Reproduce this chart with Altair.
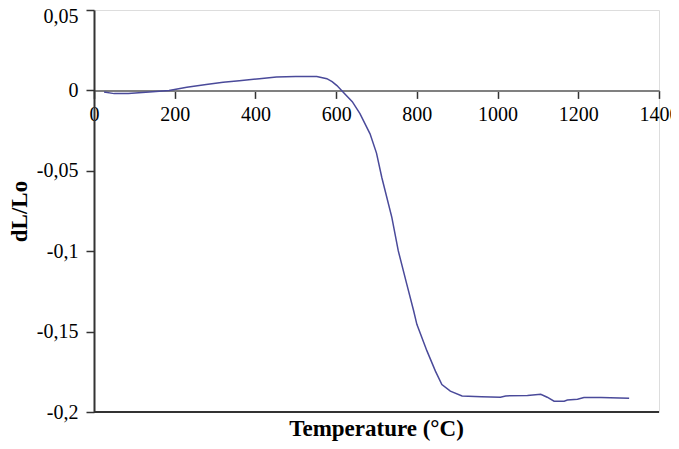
import altair as alt
import pandas as pd

# Temperature (°C) and relative length change dL/Lo
temperature = [25, 50, 85, 137, 186, 230, 278, 320, 360, 410, 452, 500, 552, 577,
               590, 602, 617, 640, 659, 684, 700, 713, 738, 754, 775, 792, 800, 825,
               846, 862, 883, 912, 960, 1007, 1020, 1074, 1107, 1123, 1140, 1165,
               1173, 1198, 1214, 1256, 1326]
dl_lo = [-0.001, -0.002, -0.002, -0.001, 0.0, 0.002, 0.0037, 0.005, 0.006, 0.0073,
         0.0083, 0.0086, 0.0087, 0.0073, 0.0055, 0.003, -0.001, -0.007, -0.0145,
         -0.027, -0.039, -0.054, -0.079, -0.0998, -0.1205, -0.137, -0.1455, -0.162,
         -0.1746, -0.1829, -0.187, -0.190, -0.1905, -0.1908, -0.190, -0.1897, -0.189,
         -0.1908, -0.1933, -0.1933, -0.1926, -0.192, -0.191, -0.191, -0.1915]

x_ticks = [0, 200, 400, 600, 800, 1000, 1200, 1400]
y_ticks = [0.05, 0.0, -0.05, -0.1, -0.15, -0.2]
bottom_edge = [-0.2]

FONT = "Liberation Serif"

df = pd.DataFrame({"T": temperature, "dL": dl_lo})
edge_df = pd.DataFrame({"y": bottom_edge})

x_scale = alt.Scale(domain=[0, 1400], nice=False, zero=False)
y_scale = alt.Scale(domain=[-0.2, 0.05], nice=False, zero=False)

x_axis = alt.Axis(
    values=x_ticks, format="d", title=None, orient="bottom", offset=-321.6,
    grid=False, domainColor="#808080", domainWidth=2,
    tickColor="#333333", tickSize=8, tickWidth=1.5,
    labelFont=FONT, labelFontSize=20, labelColor="black", labelPadding=6,
    labelFlush=False, labelOverlap=False,
)
y_axis = alt.Axis(
    values=y_ticks, labelExpr="replace(datum.value + '', '.', ',')",
    title="dL/Lo", titleFont=FONT, titleFontSize=23, titleFontWeight="bold",
    titleColor="black", titleX=-75, titleY=201, titleAlign="center",
    titleBaseline="middle", titleAngle=270,
    grid=False, domainColor="#333333", domainWidth=2,
    tickColor="#333333", tickSize=8, tickWidth=1.5,
    labelFont=FONT, labelFontSize=20, labelColor="black", labelPadding=8,
    labelOffset={"condition": {"test": "datum.value > 0.04", "value": 6}, "value": 0},
    labelFlush=False, labelOverlap=False,
)

edge = alt.Chart(edge_df).mark_rule(color="#333333", strokeWidth=2).encode(
    y=alt.Y("y:Q", scale=y_scale, axis=y_axis)
)

line = alt.Chart(df).mark_line(color="#4a4a9a", strokeWidth=1.5).encode(
    x=alt.X("T:Q", scale=x_scale, axis=x_axis),
    y=alt.Y("dL:Q", scale=y_scale, axis=y_axis),
)

chart = alt.layer(line, edge).properties(
    width=565,
    height=402,
    padding={"left": 86, "top": 2, "right": 12, "bottom": 29},
    autosize=alt.AutoSizeParams(type="none"),
    title=alt.TitleParams(
        "Temperature (°C)", orient="bottom", anchor="middle",
        font=FONT, fontSize=23, fontWeight="bold", color="black", offset=-4,
    ),
).configure_view(stroke="#888888", strokeWidth=2).configure(background="white")

chart.save("out.html", embed_options={"renderer": "svg", "actions": False})
